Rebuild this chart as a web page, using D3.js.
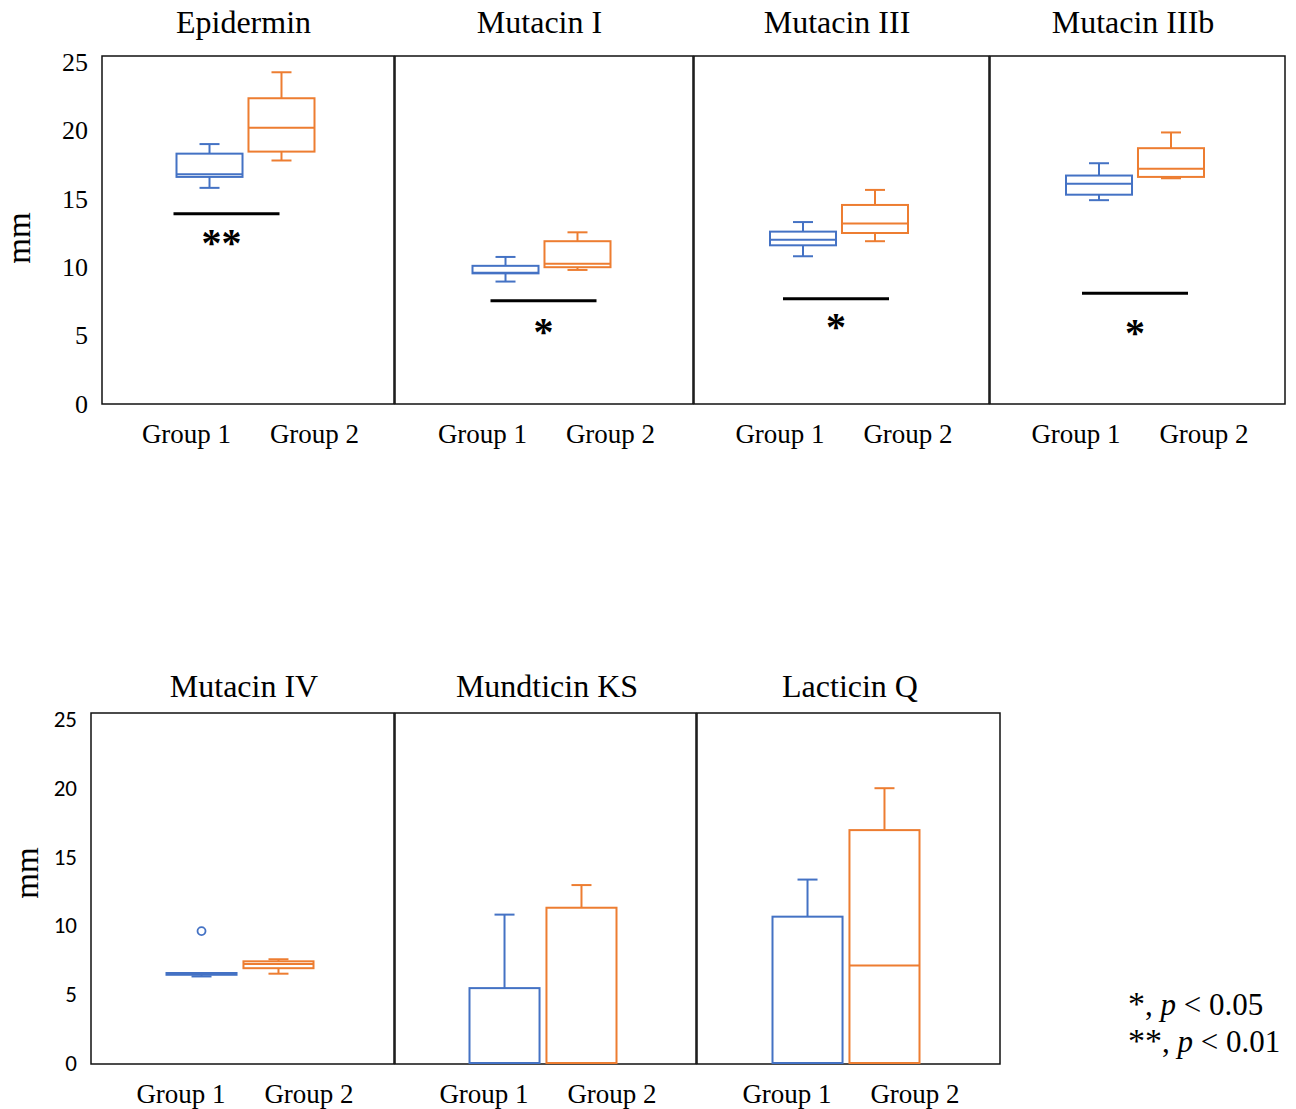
<!DOCTYPE html>
<html>
<head>
<meta charset="utf-8">
<script src="https://cdn.jsdelivr.net/npm/d3@7"></script>
<style>
  body { margin: 0; background: #fff; }
</style>
</head>
<body>
<div id="chart"></div>
<script>

const panels = ["Epidermin", "Mutacin I", "Mutacin III", "Mutacin IIIb", "Mutacin IV", "Mundticin KS", "Lacticin Q"];
const groups = ["Group 1", "Group 2"];

// [min, q1, median, q3, max] per panel
const group1Stats = [
  [15.8, 16.6, 16.8, 18.3, 19.0],
  [8.95, 9.55, 9.6, 10.1, 10.75],
  [10.8, 11.6, 12.0, 12.6, 13.3],
  [14.9, 15.3, 16.1, 16.7, 17.6],
  [6.3, 6.42, 6.5, 6.55, 6.55],
  [0, 0, 0, 5.45, 10.8],
  [0, 0, 0, 10.65, 13.35]
];
const group2Stats = [
  [17.8, 18.45, 20.2, 22.35, 24.25],
  [9.8, 10.0, 10.25, 11.9, 12.55],
  [11.9, 12.5, 13.2, 14.55, 15.65],
  [16.5, 16.6, 17.2, 18.7, 19.85],
  [6.5, 6.9, 7.2, 7.4, 7.55],
  [0, 0, 0, 11.3, 12.95],
  [0, 0, 7.1, 16.95, 20.0]
];
const outliers = [["Mutacin IV", "Group 1", 9.6]];

const sigLevels = [13.9, 7.55, 7.7, 8.1, null, null, null];
const sigLabels = ["**", "*", "*", "*", "", "", ""];

const yTicks = [0, 5, 10, 15, 20, 25];
const legendLines = [["*", "0.05"], ["**", "0.01"]];

const colors = { "Group 1": "#4472C4", "Group 2": "#ED7D31" };
const serif = "'Liberation Serif', 'Times New Roman', serif";
const sans = "Carlito, Lato, 'Liberation Sans', sans-serif";

// layout of the two rows of panels
const rows = [
  { names: panels.slice(0, 4), edges: [102, 395, 694, 990, 1286], top: 56, bottom: 404,
    yRange: [404, 62], titleY: 33, titleShift: -5, band: [-72, 66], pad: 0.083, labelY: 443,
    tickFont: serif, tickSize: "26px", mmX: 30, mmY: 238 },
  { names: panels.slice(4), edges: [91, 395, 697, 1001], top: 713, bottom: 1064,
    yRange: [1063, 719.5], titleY: 697, titleShift: 1, band: [-76.5, 70.5], pad: 0.09, labelY: 1103,
    tickFont: sans, tickSize: "23px", mmX: 38, mmY: 873 }
];
// hand placement of the significance marks
const sigShift = { "Epidermin": -19, "Mutacin I": 2, "Mutacin III": -3, "Mutacin IIIb": 0 };
const starDrop = { "Epidermin": 23, "Mutacin I": 25, "Mutacin III": 22, "Mutacin IIIb": 34 };

const svg = d3.select("#chart")
  .append("svg")
  .attr("width", 1296)
  .attr("height", 1109);

rows.forEach((row) => {
  const y = d3.scaleLinear().domain([0, 25]).range(row.yRange);

  const axis = svg.append("g")
    .attr("transform", `translate(${row.edges[0]},0)`)
    .call(d3.axisLeft(y).tickValues(yTicks).tickSize(0).tickPadding(14));
  axis.select(".domain").remove();
  axis.selectAll("text")
    .style("font-family", row.tickFont)
    .style("font-size", row.tickSize)
    .attr("fill", "#000");

  svg.append("text")
    .attr("transform", `translate(${row.mmX},${row.mmY}) rotate(-90)`)
    .style("text-anchor", "middle")
    .style("font-family", serif)
    .style("font-size", "33px")
    .text("mm");

  row.names.forEach((name, i) => {
    const p = panels.indexOf(name);
    const x0 = row.edges[i];
    const x1 = row.edges[i + 1];
    const cx = (x0 + x1) / 2;

    svg.append("rect")
      .attr("x", x0)
      .attr("y", row.top)
      .attr("width", x1 - x0 - 1)
      .attr("height", row.bottom - row.top)
      .attr("fill", "none")
      .attr("stroke", "#111")
      .attr("stroke-width", 1.5);

    svg.append("text")
      .attr("x", cx + row.titleShift)
      .attr("y", row.titleY)
      .style("text-anchor", "middle")
      .style("font-family", serif)
      .style("font-size", "32px")
      .text(name);

    const band = d3.scaleBand().domain(groups)
      .range([cx + row.band[0], cx + row.band[1]])
      .paddingInner(row.pad);
    const labelX = d3.scalePoint().domain(groups).range([cx - 62, cx + 66]);

    svg.selectAll(null)
      .data(groups)
      .join("text")
      .attr("x", (g) => labelX(g))
      .attr("y", row.labelY)
      .style("text-anchor", "middle")
      .style("font-family", serif)
      .style("font-size", "27px")
      .text((g) => g);

    const boxes = groups.map((g) => ({ g, s: (g === "Group 1" ? group1Stats : group2Stats)[p] }));
    const bw = band.bandwidth();

    boxes.forEach(({ g, s }) => {
      const bx = band(g);
      const mid = bx + bw / 2;
      const gBox = svg.append("g")
        .attr("stroke", colors[g])
        .attr("stroke-width", 2)
        .attr("fill", "none");

      if (s[4] > s[3]) {
        gBox.append("line").attr("x1", mid).attr("x2", mid).attr("y1", y(s[3])).attr("y2", y(s[4]));
        gBox.append("line").attr("x1", mid - 10).attr("x2", mid + 10).attr("y1", y(s[4])).attr("y2", y(s[4]));
      }
      if (s[0] < s[1]) {
        gBox.append("line").attr("x1", mid).attr("x2", mid).attr("y1", y(s[1])).attr("y2", y(s[0]));
        gBox.append("line").attr("x1", mid - 10).attr("x2", mid + 10).attr("y1", y(s[0])).attr("y2", y(s[0]));
      }
      gBox.append("rect")
        .attr("x", bx)
        .attr("y", y(s[3]))
        .attr("width", bw)
        .attr("height", y(s[1]) - y(s[3]));
      gBox.append("line")
        .attr("x1", bx).attr("x2", bx + bw)
        .attr("y1", y(s[2])).attr("y2", y(s[2]));
    });

    outliers.filter((o) => o[0] === name).forEach((o) => {
      svg.append("circle")
        .attr("cx", band(o[1]) + bw / 2)
        .attr("cy", y(o[2]))
        .attr("r", 4)
        .attr("fill", "#fff")
        .attr("stroke", colors[o[1]])
        .attr("stroke-width", 1.8);
    });

    if (sigLevels[p] != null) {
      const sx = cx - 3 + sigShift[name];
      const sy = y(sigLevels[p]);
      svg.append("line")
        .attr("x1", sx - 53).attr("x2", sx + 53)
        .attr("y1", sy).attr("y2", sy)
        .attr("stroke", "#000")
        .attr("stroke-width", 3);
      svg.append("text")
        .attr("x", sx - (name === "Epidermin" ? 5 : 0))
        .attr("y", sy + starDrop[name] + 19)
        .style("text-anchor", "middle")
        .style("font-family", serif)
        .style("font-weight", "bold")
        .style("font-size", "40px")
        .text(sigLabels[p]);
    }
  });
});

// legend for the stars
const legend = svg.append("g")
  .style("font-family", serif)
  .style("font-size", "31px");
legendLines.forEach((d, i) => {
  const t = legend.append("text")
    .attr("x", 1128)
    .attr("y", 1015 + i * 37);
  t.append("tspan").style("font-size", "34px").text(d[0]);
  t.append("tspan").text(", ");
  t.append("tspan").style("font-style", "italic").text("p");
  t.append("tspan").text(` < ${d[1]}`);
});

</script>
</body>
</html>
